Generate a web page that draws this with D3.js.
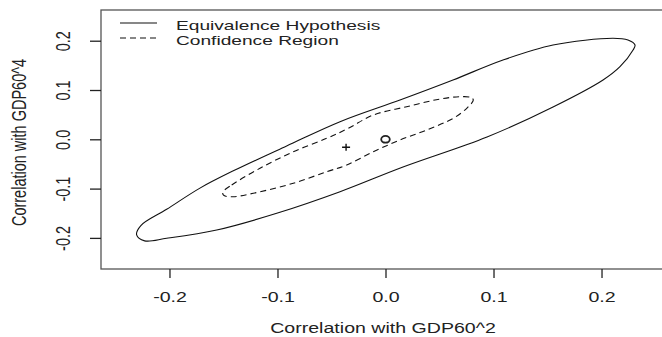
<!DOCTYPE html>
<html>
<head>
<meta charset="utf-8">
<script src="https://cdn.jsdelivr.net/npm/d3@7"></script>
<style>
  html, body { margin: 0; padding: 0; background: #fff; }
  svg { display: block; font-family: "Liberation Sans", Arial, sans-serif; }
</style>
</head>
<body>
<div id="chart"></div>
<script>
// Contour of the equivalence hypothesis (solid), [corr GDP60^2, corr GDP60^4]
const equivalenceHypothesis = [
  [-0.2304, -0.194], [-0.2265, -0.175], [-0.2026, -0.142], [-0.1718, -0.099],
  [-0.1409, -0.0640], [-0.0915, -0.0135], [-0.0421, 0.0357], [0.0134, 0.0797],
  [0.0625, 0.1203], [0.1088, 0.1609], [0.1551, 0.1913], [0.2106, 0.2049],
  [0.2245, 0.2014], [0.2310, 0.1913], [0.2292, 0.1811], [0.2171, 0.1473],
  [0.2014, 0.1203], [0.1551, 0.0655], [0.0940, 0.0047], [0.0162, -0.0562],
  [-0.0421, -0.1063], [-0.1007, -0.1501], [-0.1563, -0.184], [-0.2026, -0.2008],
  [-0.2230, -0.2060]
];

// Confidence region contour (dashed)
const confidenceRegion = [
  [-0.1507, -0.1075], [-0.1424, -0.0927], [-0.1162, -0.0588], [-0.0854, -0.0252],
  [-0.0544, 0.0020], [-0.0344, 0.0223], [-0.0113, 0.0493], [0.0196, 0.0661],
  [0.0505, 0.0817], [0.0690, 0.0864], [0.0792, 0.0848], [0.0813, 0.0797],
  [0.0752, 0.0629], [0.0628, 0.0426], [0.0381, 0.0189], [0.0134, -0.0014],
  [-0.0113, -0.0252], [-0.0359, -0.0521], [-0.0544, -0.0657], [-0.0854, -0.0892],
  [-0.1224, -0.1095], [-0.1409, -0.1164], [-0.1495, -0.1140]
];

const estimatePoint = [-0.0365, -0.0160];  // "+"
const originPoint = [0.0, 0.0];            // "o"

const xTicks = [-0.2, -0.1, 0.0, 0.1, 0.2];
const yTicks = [-0.2, -0.1, 0.0, 0.1, 0.2];
const legendLabels = ["Equivalence Hypothesis", "Confidence Region"];
const xTitle = "Correlation with GDP60^2";
const yTitle = "Correlation with GDP60^4";

const width = 662, height = 337;
const stretch = 1.35; // the original picture is widened horizontally
const fontSize = 14.5;

const x = d3.scaleLinear().domain([-0.2634, 0.2634]).range([101, 670]);
const y = d3.scaleLinear().domain([-0.2631, 0.2623]).range([269, 10]);

const svg = d3.select('#chart')
  .append('svg')
  .attr('width', width)
  .attr('height', height);

// frame
svg.append('rect')
  .attr('x', x.range()[0])
  .attr('y', y.range()[1])
  .attr('width', x.range()[1] - x.range()[0])
  .attr('height', y.range()[0] - y.range()[1])
  .attr('fill', 'none')
  .attr('stroke', '#555')
  .attr('stroke-width', 1.3);

// x axis
const xAxis = svg.append('g')
  .attr('transform', `translate(0,${y.range()[0]})`)
  .call(d3.axisBottom(x).tickValues(xTicks).tickSize(9).tickFormat(d => d.toFixed(1)));
xAxis.select('.domain').remove();
xAxis.selectAll('line').attr('stroke', '#222').attr('stroke-width', 1.3);
xAxis.selectAll('text')
  .attr('y', 33)
  .attr('dy', null)
  .attr('transform', `scale(${stretch},1)`)
  .attr('font-size', fontSize)
  .attr('font-family', '"Liberation Sans", Arial, sans-serif')
  .attr('fill', '#222');

// y axis
const yAxis = svg.append('g')
  .attr('transform', `translate(${x.range()[0]},0)`)
  .call(d3.axisLeft(y).tickValues(yTicks).tickSize(11).tickFormat(d => d.toFixed(1)));
yAxis.select('.domain').remove();
yAxis.selectAll('line').attr('stroke', '#222').attr('stroke-width', 1.3);
yAxis.selectAll('text')
  .attr('x', 0)
  .attr('y', 0)
  .attr('dy', '0.35em')
  .attr('text-anchor', 'middle')
  .attr('transform', `translate(-38,0) scale(${stretch},1) rotate(-90)`)
  .attr('font-size', fontSize)
  .attr('font-family', '"Liberation Sans", Arial, sans-serif')
  .attr('fill', '#222');

// axis titles
svg.append('text')
  .attr('transform', `translate(383,333) scale(${stretch},1)`)
  .attr('text-anchor', 'middle')
  .attr('font-size', fontSize)
  .attr('fill', '#222')
  .text(xTitle);

svg.append('text')
  .attr('transform', `translate(26,142.5) scale(${stretch},1) rotate(-90)`)
  .attr('text-anchor', 'middle')
  .attr('font-size', fontSize)
  .attr('fill', '#222')
  .text(yTitle);

// contours
const contour = d3.line()
  .x(d => x(d[0]))
  .y(d => y(d[1]))
  .curve(d3.curveCatmullRomClosed.alpha(0.5));

svg.append('path')
  .datum(equivalenceHypothesis)
  .attr('d', contour)
  .attr('fill', 'none')
  .attr('stroke', '#111')
  .attr('stroke-width', 1.1);

svg.append('path')
  .datum(confidenceRegion)
  .attr('d', contour)
  .attr('fill', 'none')
  .attr('stroke', '#111')
  .attr('stroke-width', 1.1)
  .attr('stroke-dasharray', '6,4');

// "+" marker
const px = x(estimatePoint[0]), py = y(estimatePoint[1]);
svg.append('path')
  .attr('d', `M${px - 4},${py}H${px + 4}M${px},${py - 3.5}V${py + 3.5}`)
  .attr('stroke', '#111')
  .attr('stroke-width', 1.4);

// "o" marker
svg.append('ellipse')
  .attr('cx', x(originPoint[0]))
  .attr('cy', y(originPoint[1]))
  .attr('rx', 4.3)
  .attr('ry', 3.4)
  .attr('fill', 'none')
  .attr('stroke', '#222')
  .attr('stroke-width', 1.8);

// legend (rows sit tight, as in the original)
const legend = svg.append('g');
const legendRows = [
  { label: legendLabels[0], dash: null, lineY: 23, textY: 29.5 },
  { label: legendLabels[1], dash: '6,4', lineY: 38, textY: 44.5 }
];
legendRows.forEach(r => {
  legend.append('line')
    .attr('x1', 120).attr('x2', 157)
    .attr('y1', r.lineY).attr('y2', r.lineY)
    .attr('stroke', '#111')
    .attr('stroke-width', 1.1)
    .attr('stroke-dasharray', r.dash);
  legend.append('text')
    .attr('transform', `translate(176,${r.textY}) scale(1.45,1)`)
    .attr('font-size', 13.2)
    .attr('fill', '#222')
    .text(r.label);
});
</script>
</body>
</html>
